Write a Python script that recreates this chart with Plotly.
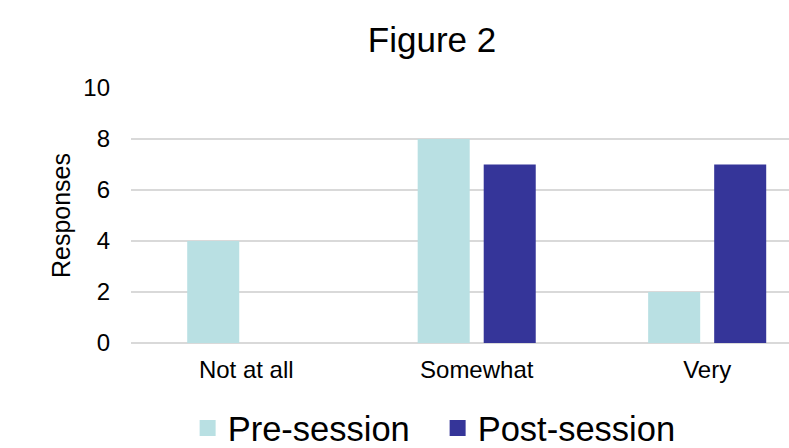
import plotly.graph_objects as go

categories = ["Not at all", "Somewhat", "Very"]
pre_session = [4, 8, 2]
post_session = [0, 7, 7]
y_ticks = [0, 2, 4, 6, 8, 10]
series_names = ["Pre-session", "Post-session"]

PRE_COLOR = "#B9E0E3"
POST_COLOR = "#353599"
FONT = "Liberation Sans, Arial, sans-serif"

fig = go.Figure()
fig.add_trace(go.Bar(name=series_names[0], x=categories, y=pre_session,
                     marker=dict(color=PRE_COLOR, line=dict(width=0)),
                     showlegend=False))
fig.add_trace(go.Bar(name=series_names[1], x=categories, y=post_session,
                     marker=dict(color=POST_COLOR, line=dict(width=0)),
                     showlegend=False))

# legend keys: larger square swatches than the default bar legend symbol
for name, color in zip(series_names, [PRE_COLOR, POST_COLOR]):
    fig.add_trace(go.Scatter(name=name, x=[None], y=[None], mode="markers",
                             marker=dict(symbol="square", size=16, color=color,
                                         line=dict(width=0)),
                             showlegend=True, hoverinfo="skip"))

fig.update_layout(
    width=789, height=448,
    margin=dict(l=131, r=0, t=88, b=105),
    paper_bgcolor="white", plot_bgcolor="white",
    font=dict(family=FONT, color="#000000"),
    barmode="group", bargap=0.427, bargroupgap=0.212,
    title=dict(text="Figure 2", font=dict(size=35, color="#000000"),
               xref="container", x=432 / 789, xanchor="center",
               yref="container", y=1 - 40 / 448, yanchor="middle"),
    legend=dict(orientation="h", xref="paper", x=0.466, xanchor="center",
                yref="container", y=1 - 428 / 448, yanchor="middle",
                font=dict(size=34.5, color="#000000"), itemwidth=30,
                entrywidth=205, entrywidthmode="pixels",
                itemsizing="trace", tracegroupgap=0),
    showlegend=True,
)

fig.update_xaxes(
    range=[-0.5, 2.355], showgrid=False, showline=False, zeroline=False,
    tickfont=dict(size=24), ticks="", ticklabelstandoff=10,
)
fig.update_yaxes(
    range=[0, 10], tickvals=y_ticks, showgrid=True, gridcolor="#D9D9D9",
    gridwidth=1.5, zeroline=True, zerolinecolor="#D9D9D9", zerolinewidth=1.5,
    showline=False, ticks="", tickfont=dict(size=24), ticklabelstandoff=20,
    title=dict(text="Responses", font=dict(size=25), standoff=5),
)

fig.write_html("out.html")
